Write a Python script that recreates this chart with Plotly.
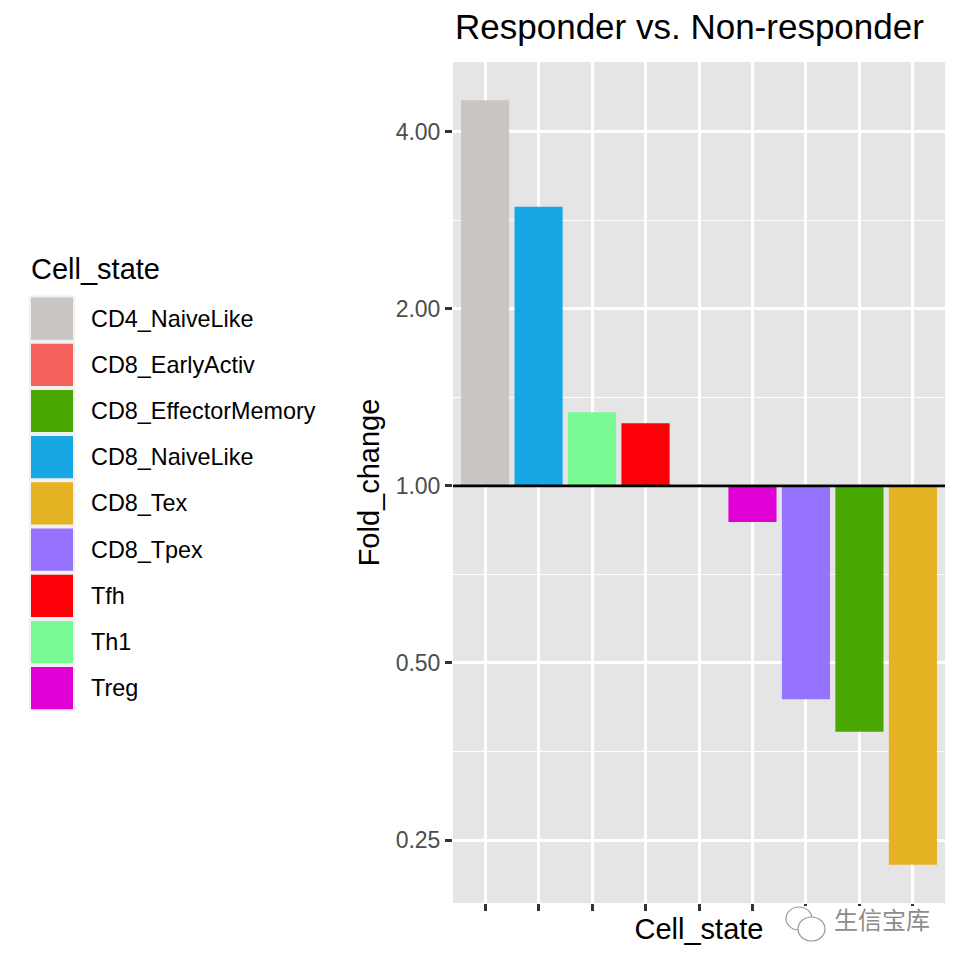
import numpy as np
import plotly.graph_objects as go

# ---- data ----
cell_states = ["CD4_NaiveLike", "CD8_EarlyActiv", "CD8_EffectorMemory", "CD8_NaiveLike",
               "CD8_Tex", "CD8_Tpex", "Tfh", "Th1", "Treg"]
fold_change = [4.52, 1.00, 0.382, 2.98, 0.227, 0.434, 1.277, 1.333, 0.868]
state_colors = ["#C9C5C2", "#F5625D", "#48A801", "#17A7E5", "#E5B223",
                "#9673FF", "#FB0007", "#7AFA94", "#E000D6"]
y_breaks = [0.25, 0.5, 1, 2, 4]
y_break_labels = ["0.25", "0.50", "1.00", "2.00", "4.00"]
y_minor = [2 ** -1.5, 2 ** -0.5, 2 ** 0.5, 2 ** 1.5]

FONT = "Liberation Sans, Arial, Helvetica, sans-serif"

# bar order: descending fold change
order = sorted(range(len(cell_states)), key=lambda i: -fold_change[i])
x_cats = [cell_states[i] for i in order]
y_vals = [fold_change[i] for i in order]
c_vals = [state_colors[i] for i in order]

# ggplot-like 5% expansion on log2 scale (bars start at 1)
l2 = np.log2(y_vals)
lo, hi = min(l2.min(), 0), max(l2.max(), 0)
pad = 0.05 * (hi - lo)
yrange = [np.log10(2 ** (lo - pad)), np.log10(2 ** (hi + pad))]

fig = go.Figure()
fig.add_trace(go.Bar(
    x=x_cats,
    y=[v - 1 for v in y_vals],
    base=[1] * len(y_vals),
    marker=dict(color=c_vals, line=dict(width=0)),
    width=0.9,
    showlegend=False,
    hovertext=[f"{c}: {v}" for c, v in zip(x_cats, y_vals)],
))

# layout geometry (pixels); page body has an 8px margin, so compensate
OFF = 8
W, H = 960, 960
PL, PT, PW, PH = 453, 62, 492, 841          # desired plot area on screen
ML, MT = PL - OFF, PT - OFF
MR, MB = W - ML - PW, H - MT - PH


def px(xp):
    return (xp - PL) / PW


def py(yp):
    return (PT + PH - yp) / PH


shapes = []
annotations = []

# reference line at fold change 1
shapes.append(dict(type="line", xref="x domain", yref="y", x0=0, x1=1, y0=1, y1=1,
                   line=dict(color="black", width=2.8), layer="above"))

# legend (ggplot style, large keys)
annotations.append(dict(text="Cell_state", xref="paper", yref="paper", x=px(29), y=py(269),
                        xanchor="left", yanchor="middle", showarrow=False,
                        font=dict(family=FONT, size=29, color="black")))
key_top0, key_step = 295.5, 46.2
for i, (name, col) in enumerate(zip(cell_states, state_colors)):
    t = key_top0 + i * key_step
    shapes.append(dict(type="rect", xref="paper", yref="paper",
                       x0=px(29), x1=px(75), y0=py(t), y1=py(t + key_step),
                       fillcolor="#F0F0F0", line=dict(width=0), layer="above"))
    shapes.append(dict(type="rect", xref="paper", yref="paper",
                       x0=px(31), x1=px(73), y0=py(t + 2), y1=py(t + key_step - 2),
                       fillcolor=col, line=dict(width=0), layer="above"))
    annotations.append(dict(text=name, xref="paper", yref="paper", x=px(89),
                            y=py(t + key_step / 2), xanchor="left", yanchor="middle",
                            showarrow=False, font=dict(family=FONT, size=23.4, color="black")))

# title
annotations.append(dict(text="Responder vs. Non-responder", xref="paper", yref="paper",
                        x=0, y=py(27), xanchor="left", yanchor="middle", showarrow=False,
                        font=dict(family=FONT, size=35, color="black")))

# watermark
shapes.append(dict(type="rect", xref="paper", yref="paper", x0=px(783), x1=px(940),
                   y0=py(906), y1=py(950), fillcolor="white", line=dict(width=0), layer="above"))
shapes.append(dict(type="circle", xref="paper", yref="paper", x0=px(786), x1=px(812),
                   y0=py(907), y1=py(930), fillcolor="white",
                   line=dict(color="#9A9A9A", width=1.2), layer="above"))
shapes.append(dict(type="circle", xref="paper", yref="paper", x0=px(798), x1=px(825),
                   y0=py(917), y1=py(941), fillcolor="white",
                   line=dict(color="#9A9A9A", width=1.2), layer="above"))
annotations.append(dict(text="生信宝库", xref="paper", yref="paper", x=px(832), y=py(918),
                        xanchor="left", yanchor="middle", showarrow=False,
                        font=dict(family="Noto Sans CJK SC", size=24, color="#8C8C8C")))

fig.update_layout(
    width=W, height=H,
    margin=dict(l=ML, r=MR, t=MT, b=MB),
    paper_bgcolor="white",
    plot_bgcolor="#E5E5E5",
    font=dict(family=FONT, color="black"),
    bargap=0.1,
    shapes=shapes,
    annotations=annotations,
    showlegend=False,
    xaxis=dict(
        type="category",
        categoryorder="array", categoryarray=x_cats,
        range=[-0.6, len(x_cats) - 1 + 0.6],
        showticklabels=False,
        ticks="outside", ticklen=7, tickwidth=2.6, tickcolor="#333333",
        showgrid=True, gridcolor="white", gridwidth=2.6,
        zeroline=False, showline=False,
        title=dict(text="Cell_state", font=dict(family=FONT, size=29, color="black"), standoff=8),
    ),
    yaxis=dict(
        type="log",
        range=yrange,
        tickmode="array", tickvals=y_breaks, ticktext=y_break_labels,
        ticks="outside", ticklen=7, tickwidth=2.6, tickcolor="#333333",
        tickfont=dict(family=FONT, size=23, color="#4D4D4D"),
        showgrid=True, gridcolor="white", gridwidth=2.6,
        minor=dict(tickmode="array", tickvals=y_minor, showgrid=True,
                   gridcolor="white", gridwidth=1.3, ticks=""),
        zeroline=False, showline=False,
        title=dict(text="Fold_change", font=dict(family=FONT, size=29, color="black"), standoff=7),
    ),
)

fig.write_html("out.html")
